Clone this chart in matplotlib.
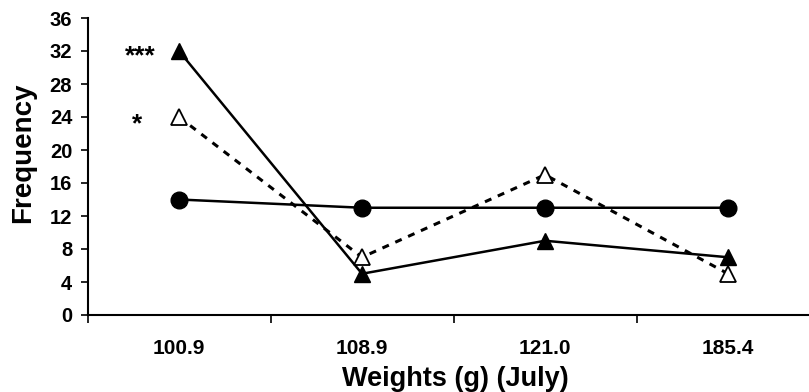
import matplotlib
matplotlib.use("Agg")
import matplotlib.pyplot as plt

plt.rcParams['font.family'] = ['Liberation Sans', 'DejaVu Sans']
plt.rcParams['font.weight'] = 'bold'
plt.rcParams['axes.labelweight'] = 'bold'

categories = ["100.9", "108.9", "121.0", "185.4"]
circles = [14, 13, 13, 13]
filled_tri = [32, 5, 9, 7]
open_tri = [24, 7, 17, 5]
y_ticks = [0, 4, 8, 12, 16, 20, 24, 28, 32, 36]
annotations = [("***", 32), ("*", 24)]

fig = plt.figure(figsize=(8.09, 3.92), dpi=100)
ax = fig.add_axes([87.5/809, 1-315/392, 732/809, (315-18)/392])

x = list(range(len(categories)))
ax.plot(x, circles, color='black', lw=1.8, marker='o', ms=12, mfc='black', mec='black', zorder=3)
ax.plot(x, filled_tri, color='black', lw=1.8, marker='^', ms=12, mfc='black', mec='black', zorder=3)
ax.plot(x, open_tri, color='black', lw=2.2, ls=(0, (2.3, 2.3)), marker='^', ms=12,
        mfc='white', mec='black', mew=1.3, zorder=3)

ax.text(-0.21, annotations[0][1] - 0.6, annotations[0][0], ha='center', va='center', fontsize=19)
ax.text(-0.228, annotations[1][1] - 0.9, annotations[1][0], ha='center', va='center', fontsize=19)

ax.set_xlim(-0.5, 3.5)
ax.set_ylim(0, 36)
ax.set_yticks(y_ticks)
ax.tick_params(axis='y', labelsize=14.5, direction='out', length=5, width=1.2, pad=6)
ax.set_xticks([i + 0.5 for i in range(-1, len(categories))])
ax.set_xticklabels([])
ax.set_xticks(x, minor=True)
ax.set_xticklabels(categories, minor=True, fontsize=15)
ax.tick_params(axis='x', which='major', direction='out', length=6, width=1.2)
ax.tick_params(axis='x', which='minor', length=0, pad=17)

for s in ['top', 'right']:
    ax.spines[s].set_visible(False)
for s in ['left', 'bottom']:
    ax.spines[s].set_linewidth(1.5)

ax.set_ylabel("Frequency", fontsize=20)
ax.yaxis.set_label_coords((36-87.5)/732, (315-153)/297)
ax.set_xlabel("Weights (g) (July)", fontsize=19.5)
ax.xaxis.set_label_coords((455-87.5)/732, (315-366)/297)

fig.savefig("out.png", dpi=100)
